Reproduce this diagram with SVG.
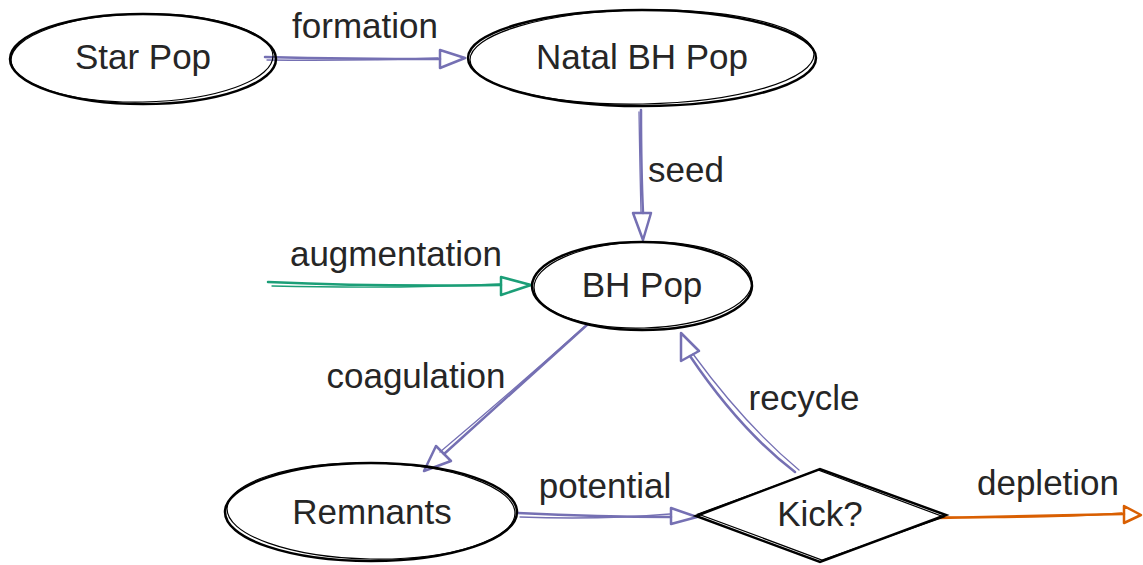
<svg xmlns="http://www.w3.org/2000/svg" width="1143" height="565" viewBox="0 0 1143 565">
<style>
.shape{fill:none;stroke:#000;stroke-width:2.5;stroke-linecap:round}
.shape2{fill:none;stroke:#000;stroke-width:1.2;stroke-linecap:round}
.lbl{font-family:"Liberation Sans",Arial,sans-serif;font-size:35px;fill:#262626;text-anchor:middle}
.p{stroke:#7570b3}
.g{stroke:#1b9e77}
.o{stroke:#d95f02}
.ln{fill:none;stroke-width:2.5;stroke-linecap:round;stroke-linejoin:round}
.ln2{fill:none;stroke-width:1.3;stroke-linecap:round}
</style>
<rect width="1143" height="565" fill="#fff"/>
<g id="connectors">
  <g id="e-formation">
    <path class="ln p" d="M265 57 Q350 59 440 59"/>
    <path class="ln2 p" d="M267 60 Q360 61 438 58"/>
    <path class="ln p" d="M440 50 L465 58 L440 68 Z"/>
  </g>
  <g id="e-seed">
    <path class="ln p" d="M641 110 Q641 170 643 213"/>
    <path class="ln2 p" d="M639 112 Q640 175 641 212"/>
    <path class="ln p" d="M633 213 L643 240 L651 213 Z"/>
  </g>
  <g id="e-augmentation">
    <path class="ln g" d="M268 282 Q380 287 501 285"/>
    <path class="ln2 g" d="M272 286 Q400 289 500 284"/>
    <path class="ln g" d="M501 277 L531 285 L501 295 Z"/>
  </g>
  <g id="e-coagulation">
    <path class="ln p" d="M588 324 Q520 385 444 454"/>
    <path class="ln2 p" d="M584 327 Q510 393 440 452"/>
    <path class="ln p" d="M436 446 L424 471 L451 461 Z"/>
  </g>
  <g id="e-potential">
    <path class="ln p" d="M518 513 Q600 517 671 517"/>
    <path class="ln2 p" d="M520 517 Q600 520 670 514"/>
    <path class="ln p" d="M671 508 L697 517 L671 524 Z"/>
  </g>
  <g id="e-recycle">
    <path class="ln p" d="M795 472 Q740 430 690 356"/>
    <path class="ln2 p" d="M799 470 Q745 425 693 354"/>
    <path class="ln p" d="M681 361 L681 333 L699 351 Z"/>
  </g>
  <g id="e-depletion">
    <path class="ln o" d="M938 518 Q1030 516 1124 514"/>
    <path class="ln2 o" d="M942 517 Q1040 519 1122 513"/>
    <path class="ln o" d="M1124 506 L1141 515 L1124 523 Z"/>
  </g>
</g>
<g id="n-starpop">
  <ellipse class="shape" cx="143" cy="59" rx="133" ry="45"/>
  <ellipse class="shape2" cx="142" cy="58" rx="131" ry="44" transform="rotate(-1 142 58)"/>
  <text class="lbl" x="143" y="69">Star Pop</text>
</g>
<g id="n-natal">
  <ellipse class="shape" cx="642" cy="58" rx="174" ry="48"/>
  <ellipse class="shape2" cx="642" cy="57" rx="172" ry="47" transform="rotate(-1 642 57)"/>
  <text class="lbl" x="642" y="69">Natal BH Pop</text>
</g>
<g id="n-bhpop">
  <ellipse class="shape" cx="642" cy="286" rx="110" ry="44"/>
  <ellipse class="shape2" cx="643" cy="285" rx="109" ry="43" transform="rotate(-1.5 643 285)"/>
  <text class="lbl" x="642" y="297">BH Pop</text>
</g>
<g id="n-remnants">
  <ellipse class="shape" cx="371" cy="512" rx="146" ry="49"/>
  <ellipse class="shape2" cx="371" cy="511" rx="144" ry="48" transform="rotate(1 371 511)"/>
  <text class="lbl" x="372" y="524">Remnants</text>
</g>
<g id="n-kick">
  <path class="shape" d="M696 516 L820 469 L946 515 L820 562 Z"/>
  <path class="shape2" d="M698 514 L818 470 L944 517 L822 560 Z"/>
  <text class="lbl" x="820" y="526">Kick?</text>
</g>
<g id="labels">
  <text class="lbl" x="365" y="38">formation</text>
  <text class="lbl" x="686" y="182">seed</text>
  <text class="lbl" x="396" y="266">augmentation</text>
  <text class="lbl" x="416" y="388">coagulation</text>
  <text class="lbl" x="605" y="498">potential</text>
  <text class="lbl" x="804" y="410">recycle</text>
  <text class="lbl" x="1048" y="495">depletion</text>
</g>
</svg>
